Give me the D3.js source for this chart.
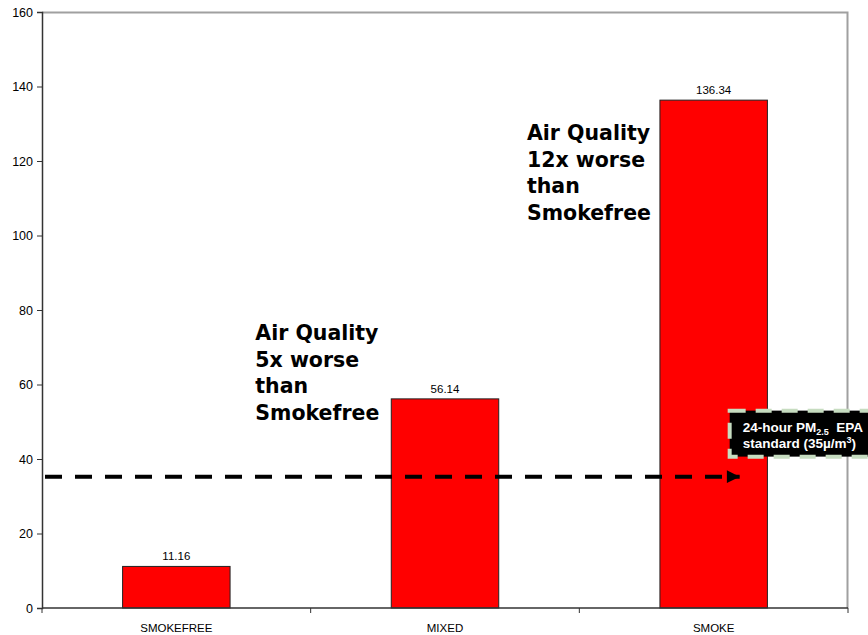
<!DOCTYPE html>
<html>
<head>
<meta charset="utf-8">
<script src="https://cdn.jsdelivr.net/npm/d3@7"></script>
<style>
  body { margin: 0; background: #fff; }
  svg { display: block; }
</style>
</head>
<body>
<div id="chart"></div>
<script>
// data
var categories = ["SMOKEFREE", "MIXED", "SMOKE"];
var pmValues = [11.16, 56.14, 136.34];
var yTicks = [0, 20, 40, 60, 80, 100, 120, 140, 160];
var epaStandard = 35;
var notes = [
  { cat: "MIXED", lines: ["Air Quality", "5x worse", "than", "Smokefree"] },
  { cat: "SMOKE", lines: ["Air Quality", "12x worse", "than", "Smokefree"] }
];

var W = 868, H = 635;
var margin = { left: 42, right: 20, top: 12, bottom: 27 };
var width = W - margin.left - margin.right,
    height = H - margin.top - margin.bottom;

var svg = d3.select("#chart").append("svg")
    .attr("width", W)
    .attr("height", H);

var g = svg.append("g")
    .attr("transform", "translate(" + margin.left + "," + margin.top + ")");

var x = d3.scaleBand()
    .domain(categories)
    .range([0, width])
    .paddingInner(0.6)
    .paddingOuter(0.3);

var y = d3.scaleLinear()
    .domain([0, 160])
    .range([height, 0]);

// plot area border (top + right, gray)
g.append("path")
    .attr("d", "M0,0.5H" + (width - 0.5) + "V" + height)
    .attr("fill", "none")
    .attr("stroke", "#a0a0a0")
    .attr("stroke-width", 2);

// bars
var data = categories.map(function(c, i) { return { cat: c, v: pmValues[i] }; });

g.selectAll("rect.bar")
    .data(data)
  .enter().append("rect")
    .attr("class", "bar")
    .attr("x", function(d) { return x(d.cat); })
    .attr("y", function(d) { return y(d.v); })
    .attr("width", x.bandwidth())
    .attr("height", function(d) { return height - y(d.v); })
    .attr("fill", "#ff0000")
    .attr("stroke", "#222")
    .attr("stroke-width", 1);

g.selectAll("text.val")
    .data(data)
  .enter().append("text")
    .attr("class", "val")
    .attr("x", function(d) { return x(d.cat) + x.bandwidth() / 2; })
    .attr("y", function(d) { return y(d.v) - 6; })
    .attr("text-anchor", "middle")
    .attr("font-family", "Liberation Sans, Arial, sans-serif")
    .attr("font-size", "11.5px")
    .attr("fill", "#000")
    .text(function(d) { return d.v.toFixed(2); });

// y axis
var yAxis = g.append("g")
    .call(d3.axisLeft(y).tickValues(yTicks).tickSize(5).tickPadding(4));
yAxis.select(".domain").attr("stroke", "#333").attr("stroke-width", 1.5);
yAxis.selectAll(".tick line").attr("stroke", "#333");
yAxis.selectAll("text")
    .attr("font-family", "Liberation Sans, Arial, sans-serif")
    .attr("font-size", "12.5px")
    .attr("fill", "#000");

// x axis, ticks on category boundaries
var step = x.step();
var xAxis = g.append("g")
    .attr("transform", "translate(0," + height + ")");
xAxis.append("line")
    .attr("x1", 0).attr("x2", width)
    .attr("stroke", "#333").attr("stroke-width", 1.5);
xAxis.selectAll("line.tk")
    .data(d3.range(categories.length + 1))
  .enter().append("line")
    .attr("class", "tk")
    .attr("x1", function(i) { return i * step; })
    .attr("x2", function(i) { return i * step; })
    .attr("y1", 0).attr("y2", 5)
    .attr("stroke", "#333");
xAxis.selectAll("text")
    .data(categories)
  .enter().append("text")
    .attr("x", function(d) { return x(d) + x.bandwidth() / 2; })
    .attr("y", 24)
    .attr("text-anchor", "middle")
    .attr("font-family", "Liberation Sans, Arial, sans-serif")
    .attr("font-size", "11.5px")
    .attr("fill", "#000")
    .text(function(d) { return d; });

// EPA standard dashed arrow
var yStd = y(epaStandard) - 1;
svg.append("defs").append("marker")
    .attr("id", "arrow")
    .attr("viewBox", "0 0 10 10")
    .attr("refX", 10).attr("refY", 5)
    .attr("markerWidth", 4).attr("markerHeight", 3.2)
    .attr("markerUnits", "strokeWidth")
    .attr("orient", "auto")
  .append("path")
    .attr("d", "M0,0L10,5L0,10Z")
    .attr("fill", "#000");

g.append("line")
    .attr("x1", 3)
    .attr("x2", x("SMOKE") + x.bandwidth() / 2 + 26)
    .attr("y1", yStd).attr("y2", yStd)
    .attr("stroke", "#000")
    .attr("stroke-width", 4)
    .attr("stroke-dasharray", "17,13")
    .attr("marker-end", "url(#arrow)");

// EPA label box
var bx = x("SMOKE") + x.bandwidth() / 2 + 16;
var by = y(epaStandard) - 67;
var box = g.append("g").attr("transform", "translate(" + bx + "," + by + ")");
box.append("rect")
    .attr("x", 0).attr("y", 0)
    .attr("width", 150).attr("height", 46)
    .attr("fill", "#000")
    .attr("stroke", "#c6dcc0")
    .attr("stroke-width", 4)
    .attr("stroke-dasharray", "16,10");
var t1 = box.append("text")
    .attr("x", 13).attr("y", 21)
    .attr("font-family", "Liberation Sans, Arial, sans-serif")
    .attr("font-size", "13.5px")
    .attr("font-weight", "bold")
    .attr("fill", "#fff");
t1.append("tspan").text("24-hour PM");
t1.append("tspan").attr("font-size", "9px").attr("dy", 3).text("2.5");
t1.append("tspan").attr("dy", -3).text("\u00a0 EPA");
var t2 = box.append("text")
    .attr("x", 13).attr("y", 37)
    .attr("font-family", "Liberation Sans, Arial, sans-serif")
    .attr("font-size", "13.5px")
    .attr("font-weight", "bold")
    .attr("fill", "#fff");
t2.append("tspan").text("standard (35\u00b5/m");
t2.append("tspan").attr("font-size", "9px").attr("dy", -5).text("3");
t2.append("tspan").attr("dy", 5).text(")");

// annotations
var noteAnchor = { MIXED: { dx: -136, top: 340 }, SMOKE: { dx: -133, top: 140 } };
notes.forEach(function(n) {
  var a = noteAnchor[n.cat];
  var t = svg.append("text")
      .attr("font-family", "DejaVu Sans, Verdana, sans-serif")
      .attr("font-size", "20.5px")
      .attr("font-weight", "bold")
      .attr("fill", "#000");
  n.lines.forEach(function(line, i) {
    t.append("tspan")
        .attr("x", margin.left + x(n.cat) + a.dx)
        .attr("y", a.top + i * 26.5)
        .text(line);
  });
});
</script>
</body>
</html>
